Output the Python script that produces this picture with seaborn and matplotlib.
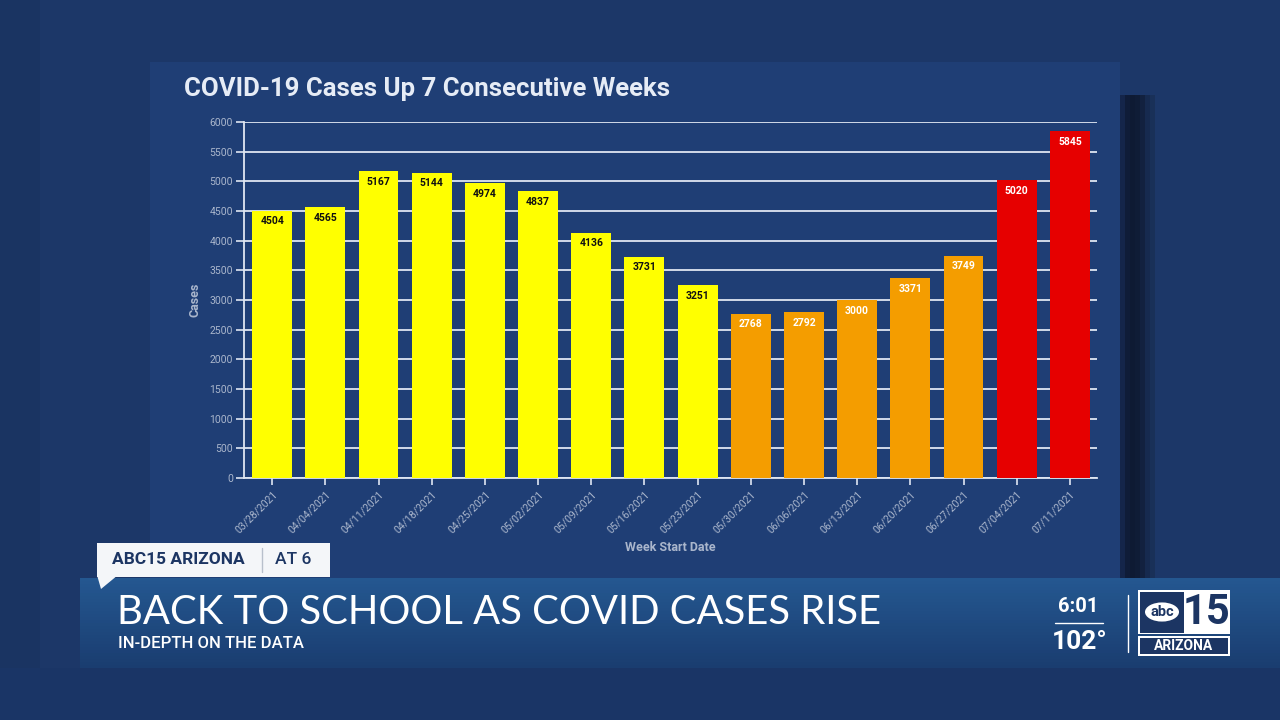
import matplotlib
matplotlib.use("Agg")
import matplotlib.pyplot as plt
import seaborn as sns
import pandas as pd
from matplotlib.patches import Rectangle, Polygon, Circle
from matplotlib.lines import Line2D

# ---------------- data ----------------
weeks = ["03/28/2021", "04/04/2021", "04/11/2021", "04/18/2021", "04/25/2021",
         "05/02/2021", "05/09/2021", "05/16/2021", "05/23/2021", "05/30/2021",
         "06/06/2021", "06/13/2021", "06/20/2021", "06/27/2021", "07/04/2021",
         "07/11/2021"]
cases = [4504, 4565, 5167, 5144, 4974, 4837, 4136, 3731, 3251, 2768,
         2792, 3000, 3371, 3749, 5020, 5845]
level = ["down"] * 9 + ["up"] * 5 + ["high"] * 2
level_colors = {"down": "#ffff00", "up": "#f49d00", "high": "#e60000"}
label_colors = {"down": "#111111", "up": "#ffffff", "high": "#ffffff"}
y_ticks = list(range(0, 6001, 500))

title = "COVID-19 Cases Up 7 Consecutive Weeks"
x_title = "Week Start Date"
y_title = "Cases"
headline = "BACK TO SCHOOL AS COVID CASES RISE"
subhead = "IN-DEPTH ON THE DATA"

df = pd.DataFrame({"week": weeks, "cases": cases, "level": level})

W, H = 1280, 720
sns.set_theme(style="white")
plt.rcParams["font.family"] = ["Roboto", "DejaVu Sans"]

fig = plt.figure(figsize=(12.8, 7.2), dpi=100)
fig.patch.set_facecolor("#1c3768")


def rect(x0, y0, x1, y1, **kw):
    fig.add_artist(Rectangle((x0 / W, 1 - y1 / H), (x1 - x0) / W, (y1 - y0) / H,
                             transform=fig.transFigure, **kw))


def ftext(x, y, s, **kw):
    fig.text(x / W, 1 - y / H, s, **kw)


# background layers
rect(0, 0, 40, 720, facecolor="#1a3462", lw=0, zorder=0)
rect(150, 62, 1120, 580, facecolor="#1f3e75", lw=0, zorder=0)
# soft shadow right of the chart panel
shade = ["#14254a", "#0f1c38", "#0e1a33", "#0f1c36", "#12213f", "#162a4f", "#193058"]
for k, c in enumerate(shade):
    rect(1120 + k * 5, 95, 1125 + k * 5, 580, facecolor=c, lw=0, zorder=0)

# ---------------- chart ----------------
ax = fig.add_axes([244 / W, 1 - 478 / H, (1097 - 244) / W, (478 - 122) / H])
ax.set_facecolor("none")
sns.barplot(data=df, x="week", y="cases", hue="level", palette=level_colors,
            dodge=False, width=0.75, legend=False, ax=ax, saturation=1,
            edgecolor="none", zorder=3)
ax.set_ylim(0, 6000)
ax.set_xlim(-0.53, len(weeks) - 1 + 0.51)
ax.set_yticks(y_ticks)
ax.set_yticklabels([str(v) for v in y_ticks])
ax.grid(axis="y", color="#dfe6f2", lw=1.3, zorder=0)
ax.set_axisbelow(True)
for s in ["top", "right"]:
    ax.spines[s].set_visible(False)
for s in ["left", "bottom"]:
    ax.spines[s].set_color("#dfe6f2")
    ax.spines[s].set_linewidth(1.3)
ax.tick_params(axis="y", colors="#dfe6f2", labelcolor="#aab6cc", length=6,
               width=1.2, direction="out", labelsize=7.5, pad=2, left=True)
ax.tick_params(axis="x", colors="#dfe6f2", labelcolor="#aab6cc", length=5,
               width=1.2, direction="out", labelsize=7.5, pad=3, bottom=True)
ax.set_xticks(range(len(weeks)))
ax.set_xticklabels(weeks, rotation=45, ha="right", rotation_mode="anchor")
ax.set_xlabel(x_title, color="#aab6cc", fontsize=9, fontweight="bold", labelpad=4)
ax.set_ylabel(y_title, color="#aab6cc", fontsize=9, fontweight="bold", labelpad=6)

for i, (v, lv) in enumerate(zip(cases, level)):
    ax.text(i, v - 95, str(v), ha="center", va="top", fontsize=7.5,
            fontweight="bold", color=label_colors[lv], zorder=5)

ftext(184, 89, title, fontsize=18.5, fontweight="bold", color="#e6ecf6",
      va="center", ha="left")

# ---------------- TV banner ----------------
n = 30
for k in range(n):
    y0 = 578 + k * 90 / n
    t = k / (n - 1)
    c0 = (0x24 / 255, 0x57 / 255, 0x90 / 255)
    c1 = (0x1a / 255, 0x3d / 255, 0x70 / 255)
    col = tuple(a + (b - a) * t for a, b in zip(c0, c1))
    rect(80, y0, 1280, y0 + 90 / n + 0.5, facecolor=col, lw=0, zorder=2)
rect(0, 668, 1280, 720, facecolor="#1a3566", lw=0, zorder=2)

# tag box
rect(97, 543, 330, 577, facecolor="#f4f6f9", lw=0, zorder=4)
fig.add_artist(Polygon([(97 / W, 1 - 575 / H), (118 / W, 1 - 575 / H),
                        (101 / W, 1 - 589 / H)], closed=True,
                       transform=fig.transFigure, facecolor="#f4f6f9", lw=0, zorder=4))
ftext(112, 560, "ABC15 ARIZONA", fontsize=12.5, fontweight="bold",
      color="#1c3563", va="center", ha="left", zorder=5)
fig.add_artist(Line2D([262 / W, 262 / W], [1 - 548 / H, 1 - 572 / H],
                      transform=fig.transFigure, color="#b8c0cc", lw=1, zorder=5))
ftext(275, 560, "AT 6", fontsize=12.5, fontweight="medium", color="#1c3563",
      va="center", ha="left", zorder=5)

ftext(117, 612, headline, fontsize=28.8, color="#ffffff", va="center",
      ha="left", zorder=5, fontweight="normal", family=["Lato", "DejaVu Sans"])
ftext(118, 643, subhead, fontsize=12, color="#ffffff", va="center",
      ha="left", zorder=5, fontweight="medium")

# time / temp
ftext(1078, 607, "6:01", fontsize=14.5, fontweight="bold", color="#ffffff",
      ha="center", va="center", zorder=5)
fig.add_artist(Line2D([1055 / W, 1103 / W], [1 - 623 / H, 1 - 623 / H],
                      transform=fig.transFigure, color="#ffffff", lw=1, zorder=5))
ftext(1080, 642, "102°", fontsize=19, fontweight="bold", color="#ffffff",
      ha="center", va="center", zorder=5)
fig.add_artist(Line2D([1128 / W, 1128 / W], [1 - 595 / H, 1 - 652 / H],
                      transform=fig.transFigure, color="#ffffff", lw=1, zorder=5))

# logo
rect(1138, 590, 1230, 634, facecolor="#ffffff", lw=0, zorder=4)
rect(1140, 592, 1184, 633, facecolor="#1c3563", lw=0, zorder=5)
fig.add_artist(Circle((1162 / W, 1 - 612 / H), 17 / W, transform=fig.transFigure,
                      facecolor="#ffffff", lw=0, zorder=6))
ftext(1162, 612, "abc", fontsize=10.5, fontweight="bold", color="#1c3563",
      ha="center", va="center", zorder=7)
ftext(1207, 613, "15", fontsize=30, fontweight="bold", color="#1c3563",
      ha="center", va="center", zorder=6)
rect(1138, 636, 1230, 656, facecolor="#ffffff", lw=0, zorder=4)
rect(1140, 638, 1228, 654, facecolor="#1c3563", lw=0, zorder=5)
ftext(1184, 646, "ARIZONA", fontsize=10, fontweight="bold", color="#ffffff",
      ha="center", va="center", zorder=6)

fig.savefig("out.png", dpi=100, facecolor=fig.get_facecolor())
